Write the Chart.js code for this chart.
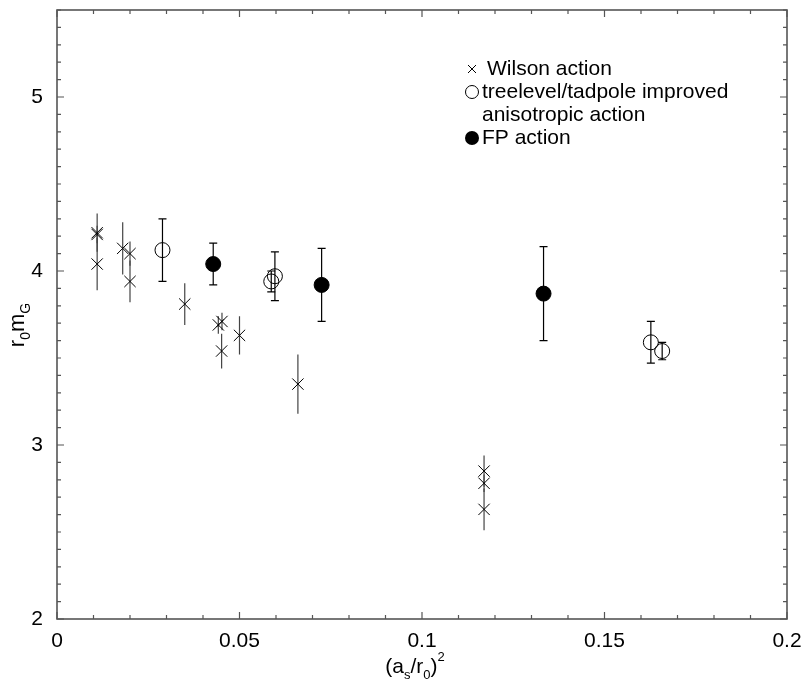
<!DOCTYPE html>
<html><head><meta charset="utf-8">
<script src="https://cdn.jsdelivr.net/npm/chart.js@4"></script>
<style>html,body{margin:0;padding:0;background:#fff}</style>
</head><body>
<canvas id="c" width="805" height="680"></canvas>
<script>
// ---- data ----
const wilsonX   = [0.011, 0.011, 0.011, 0.018, 0.020, 0.020, 0.035, 0.0442, 0.0452, 0.0451, 0.050, 0.066, 0.117, 0.117, 0.117];
const wilsonY   = [4.22, 4.21, 4.04, 4.13, 4.10, 3.94, 3.81, 3.69, 3.71, 3.54, 3.63, 3.35, 2.85, 2.78, 2.63];
const wilsonErr = [0.11, 0.05, 0.15, 0.15, 0.07, 0.12, 0.12, 0.05, 0.05, 0.10, 0.11, 0.17, 0.09, 0.05, 0.12];

const treeX   = [0.0289, 0.0587, 0.0597, 0.1627, 0.1658];
const treeY   = [4.12, 3.94, 3.97, 3.59, 3.54];
const treeErr = [0.18, 0.06, 0.14, 0.12, 0.05];

const fpX   = [0.0428, 0.0725, 0.1333];
const fpY   = [4.04, 3.92, 3.87];
const fpErr = [0.12, 0.21, 0.27];

const legendLabels = ['Wilson action', 'treelevel/tadpole improved', 'anisotropic action', 'FP action'];
const xRange = [0, 0.2];
const yRange = [2, 5.5];

const FONT = '"Liberation Sans", Arial, Helvetica, sans-serif';
const toPts = (xs, ys) => xs.map((x, i) => ({x: x, y: ys[i]}));

function richWidth(ctx, parts, size) {
  let w = 0;
  for (const p of parts) {
    ctx.font = (p.s === 'n' ? size : Math.round(size * 0.62)) + 'px ' + FONT;
    w += ctx.measureText(p.t).width;
  }
  return w;
}
function drawRich(ctx, parts, x, y, size) {
  let cx = x;
  for (const p of parts) {
    const fs = p.s === 'n' ? size : Math.round(size * 0.62);
    ctx.font = fs + 'px ' + FONT;
    const dy = p.s === 'sub' ? size * 0.28 : (p.s === 'sup' ? -size * 0.55 : 0);
    ctx.fillText(p.t, cx, y + dy);
    cx += ctx.measureText(p.t).width;
  }
}

const errorBars = {
  id: 'errorBars',
  beforeDatasetsDraw(chart) {
    const ctx = chart.ctx, xs = chart.scales.x, ys = chart.scales.y;
    ctx.save();
    chart.data.datasets.forEach(ds => {
      ctx.strokeStyle = ds.errColor; ctx.lineWidth = 1.2;
      ds.data.forEach((p, i) => {
        const px = xs.getPixelForValue(p.x);
        const y1 = ys.getPixelForValue(p.y + ds.errors[i]);
        const y2 = ys.getPixelForValue(p.y - ds.errors[i]);
        ctx.beginPath();
        ctx.moveTo(px, y1); ctx.lineTo(px, y2);
        if (ds.cap > 0) {
          ctx.moveTo(px - ds.cap, y1); ctx.lineTo(px + ds.cap, y1);
          ctx.moveTo(px - ds.cap, y2); ctx.lineTo(px + ds.cap, y2);
        }
        ctx.stroke();
      });
    });
    ctx.restore();
  }
};

const frame = {
  id: 'frame',
  afterDraw(chart) {
    const ctx = chart.ctx, a = chart.chartArea, xs = chart.scales.x, ys = chart.scales.y;
    ctx.save();
    ctx.strokeStyle = '#555'; ctx.lineWidth = 1.6;
    ctx.strokeRect(a.left, a.top, a.right - a.left, a.bottom - a.top);
    ctx.lineWidth = 1.2;
    ctx.beginPath();
    xs.ticks.forEach(t => {
      const px = xs.getPixelForValue(t.value);
      const len = t.label ? 7 : 4;
      ctx.moveTo(px, a.bottom); ctx.lineTo(px, a.bottom - len);
      ctx.moveTo(px, a.top); ctx.lineTo(px, a.top + len);
    });
    ys.ticks.forEach(t => {
      const py = ys.getPixelForValue(t.value);
      const len = t.label ? 7 : 4;
      ctx.moveTo(a.left, py); ctx.lineTo(a.left + len, py);
      ctx.moveTo(a.right, py); ctx.lineTo(a.right - len, py);
    });
    ctx.stroke();

    // axis titles
    ctx.fillStyle = '#000'; ctx.textBaseline = 'alphabetic'; ctx.textAlign = 'left';
    const xt = [{t:'(a',s:'n'},{t:'s',s:'sub'},{t:'/r',s:'n'},{t:'0',s:'sub'},{t:')',s:'n'},{t:'2',s:'sup'}];
    const xw = richWidth(ctx, xt, 21);
    drawRich(ctx, xt, 415 - xw / 2, 673, 21);

    const yt = [{t:'r',s:'n'},{t:'0',s:'sub'},{t:'m',s:'n'},{t:'G',s:'sub'}];
    const yw = richWidth(ctx, yt, 22);
    ctx.save();
    ctx.translate(24, 325);
    ctx.rotate(-Math.PI / 2);
    drawRich(ctx, yt, -yw / 2, 0, 22);
    ctx.restore();

    // legend
    ctx.font = '21px ' + FONT;
    ctx.textBaseline = 'middle';
    const lx = 472, ty = [69, 92, 115, 138];
    ctx.fillText(legendLabels[0], 487, ty[0]);
    ctx.fillText(legendLabels[1], 482, ty[1]);
    ctx.fillText(legendLabels[2], 482, ty[2]);
    ctx.fillText(legendLabels[3], 482, ty[3]);
    ctx.strokeStyle = '#000'; ctx.lineWidth = 1;
    ctx.beginPath();
    ctx.moveTo(lx - 4, ty[0] - 4); ctx.lineTo(lx + 4, ty[0] + 4);
    ctx.moveTo(lx - 4, ty[0] + 4); ctx.lineTo(lx + 4, ty[0] - 4);
    ctx.stroke();
    ctx.beginPath(); ctx.arc(lx, ty[1], 6.5, 0, Math.PI * 2); ctx.stroke();
    ctx.beginPath(); ctx.arc(lx, ty[3], 7, 0, Math.PI * 2); ctx.fill();
    ctx.restore();
  }
};

new Chart(document.getElementById('c'), {
  type: 'scatter',
  data: {
    datasets: [
      {label: legendLabels[0], data: toPts(wilsonX, wilsonY), errors: wilsonErr, errColor: '#444', cap: 0,
       pointStyle: 'crossRot', pointRadius: 8, borderColor: '#000', borderWidth: 1, backgroundColor: '#000'},
      {label: legendLabels[1], data: toPts(treeX, treeY), errors: treeErr, errColor: '#000', cap: 4,
       pointStyle: 'circle', pointRadius: 7.5, borderColor: '#000', borderWidth: 1, backgroundColor: 'rgba(0,0,0,0)'},
      {label: legendLabels[3], data: toPts(fpX, fpY), errors: fpErr, errColor: '#000', cap: 4,
       pointStyle: 'circle', pointRadius: 7.5, borderColor: '#000', borderWidth: 1, backgroundColor: '#000'}
    ]
  },
  options: {
    responsive: false,
    animation: false,
    events: [],
    layout: {padding: {top: 10, right: 18, left: 0, bottom: 0}},
    plugins: {legend: {display: false}, tooltip: {enabled: false}},
    scales: {
      x: {
        type: 'linear', min: xRange[0], max: xRange[1],
        grid: {display: false, drawTicks: false}, border: {display: false},
        afterFit: s => { s.height = 61; s.paddingLeft = 0; s.paddingRight = 0; },
        ticks: {
          stepSize: 0.01, autoSkip: false, maxTicksLimit: 100, maxRotation: 0, padding: 10,
          color: '#000', font: {family: FONT, size: 21},
          callback: v => { const k = v / 0.05; return Math.abs(k - Math.round(k)) < 1e-6 ? String(+(Math.round(k) * 0.05).toFixed(2)) : ''; }
        }
      },
      y: {
        type: 'linear', min: yRange[0], max: yRange[1],
        grid: {display: false, drawTicks: false}, border: {display: false},
        afterFit: s => { s.width = 57; s.paddingTop = 0; s.paddingBottom = 0; },
        ticks: {
          stepSize: 0.1, autoSkip: false, maxTicksLimit: 100, padding: 14,
          color: '#000', font: {family: FONT, size: 21},
          callback: v => Math.abs(v - Math.round(v)) < 1e-6 ? String(Math.round(v)) : ''
        }
      }
    }
  },
  plugins: [errorBars, frame]
});
</script>
</body></html>
